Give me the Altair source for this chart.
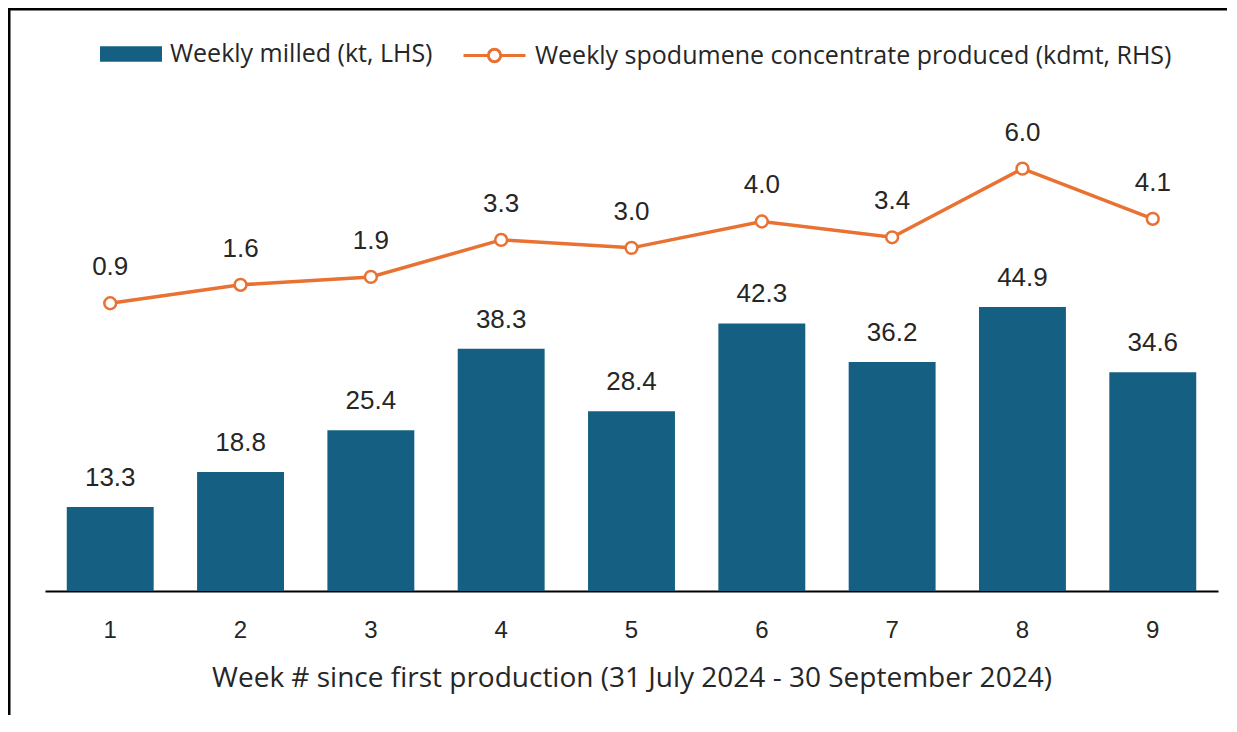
import altair as alt
import pandas as pd

weeks = ["1", "2", "3", "4", "5", "6", "7", "8", "9"]
milled = [13.3, 18.8, 25.4, 38.3, 28.4, 42.3, 36.2, 44.9, 34.6]
spodumene = [0.9, 1.6, 1.9, 3.3, 3.0, 4.0, 3.4, 6.0, 4.1]
bar_name = "Weekly milled (kt, LHS)"
line_name = "Weekly spodumene concentrate produced (kdmt, RHS)"
x_title = "Week # since first production (31 July 2024 - 30 September 2024)"

BLUE = "#156082"
ORANGE = "#E97132"
TXT = "#262626"
SANS = "Open Sans"
NUM = "Liberation Sans"

df = pd.DataFrame({"week": weeks, "milled": milled, "spod": spodumene,
                   "bname": [bar_name] * 9, "lname": [line_name] * 9})

W, H = 1173, 506
PL, PT = 37, 77

xenc = alt.X("week:O", sort=weeks,
             scale=alt.Scale(paddingInner=0.333, paddingOuter=0.167),
             axis=alt.Axis(title=x_title, labelAngle=0, ticks=False,
                           domainColor="black", domainWidth=2,
                           labelFont=NUM, labelFontSize=24, labelColor=TXT,
                           labelPadding=27,
                           titleFont=SANS, titleFontSize=28, titleFontWeight="normal",
                           titleColor=TXT, titlePadding=22))

ybar = alt.Y("milled:Q", scale=alt.Scale(domain=[0, 80], nice=False), axis=None)
yline = alt.Y("spod:Q", scale=alt.Scale(domain=[-10, 9.17], nice=False), axis=None)

base = alt.Chart(df)

bars = base.mark_bar(stroke=None).encode(
    x=xenc, y=ybar,
    fill=alt.Fill("bname:N", scale=alt.Scale(domain=[bar_name], range=[BLUE]),
                  legend=alt.Legend(title=None, orient="none", legendX=55, legendY=-62,
                                    symbolType="M-1,-0.25H1V0.25H-1Z", symbolSize=3844,
                                    symbolStrokeWidth=0,
                                    labelFont=SANS, labelFontSize=25, labelColor=TXT,
                                    labelOffset=8, labelLimit=800)),
)
bar_text = base.mark_text(baseline="alphabetic", dy=-21, font=NUM, fontSize=26,
                          color=TXT).encode(
    x=xenc, y=ybar, text=alt.Text("milled:Q", format=".1f"))

line = base.mark_line(strokeWidth=3.5,
                      point=alt.OverlayMarkDef(filled=True, fill="white", size=140,
                                               strokeWidth=2.5)).encode(
    x=xenc, y=yline,
    stroke=alt.Stroke("lname:N", scale=alt.Scale(domain=[line_name], range=[ORANGE]),
                      legend=alt.Legend(title=None, orient="none", legendX=417, legendY=-62,
                                        symbolType="M-1,0H-0.2M0.2,0H1M-0.2,0A0.2,0.2 0 1,0 0.2,0A0.2,0.2 0 1,0 -0.2,0",
                                        symbolSize=3844, symbolStrokeWidth=3,
                                        symbolFillColor="white",
                                        labelFont=SANS, labelFontSize=25, labelColor=TXT,
                                        labelOffset=8, labelLimit=900)),
)
line_text = base.mark_text(baseline="alphabetic", dy=-28, font=NUM, fontSize=26,
                           color=TXT).encode(
    x=xenc, y=yline, text=alt.Text("spod:Q", format=".1f"))

one = alt.Chart(pd.DataFrame({"a": [0]}))
top_border = one.mark_rule(color="black", strokeWidth=3).encode(
    x=alt.value(-PL), x2=alt.value(W + 9), y=alt.value(-PT + 1), y2=alt.value(-PT + 1))
left_border = one.mark_rule(color="black", strokeWidth=3).encode(
    x=alt.value(-PL + 1), x2=alt.value(-PL + 1), y=alt.value(-PT), y2=alt.value(H + 140))

chart = alt.layer(bars, bar_text, line, line_text, top_border, left_border).resolve_scale(
    y="independent"
).properties(
    width=W, height=H,
    autosize=alt.AutoSizeParams(type="none"),
    padding={"left": PL, "top": PT, "right": 11, "bottom": 124},
).configure_view(stroke=None)

chart.save("out.html", embed_options={"renderer": "svg", "actions": False})
